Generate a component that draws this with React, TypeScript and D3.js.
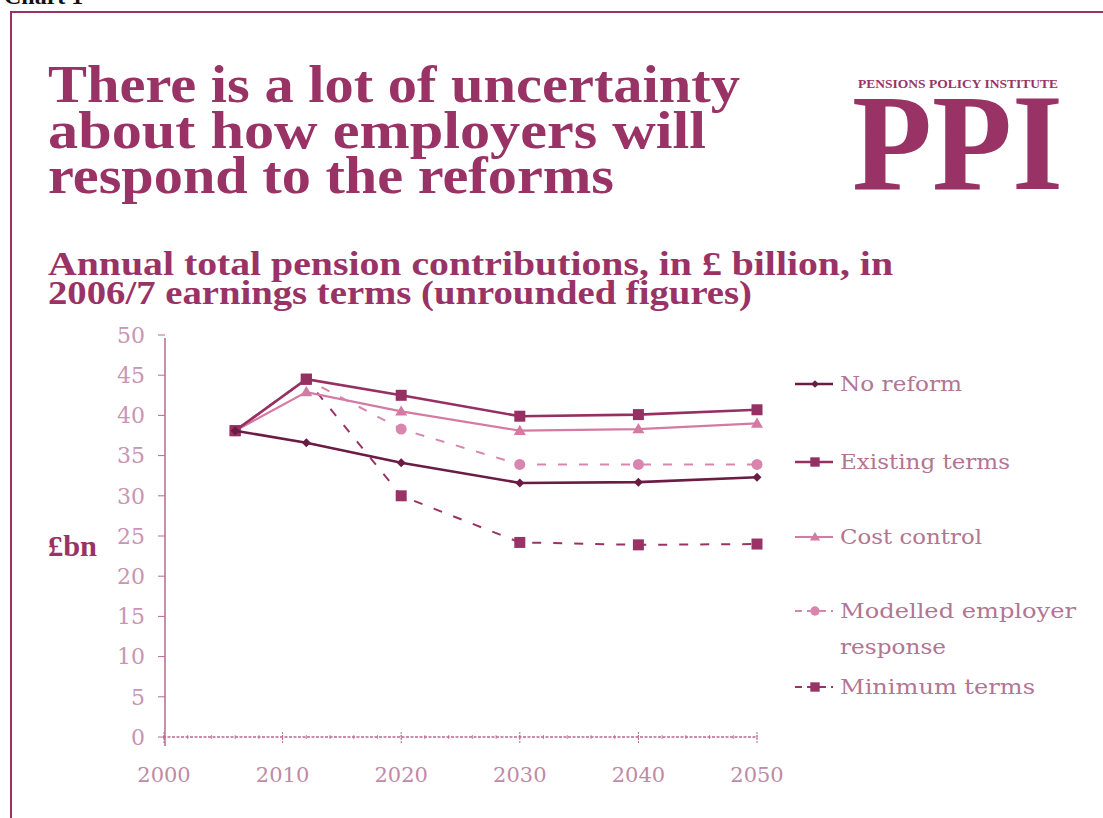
import React from "react";
import * as d3 from "d3";

const years = [2006, 2012, 2020, 2030, 2040, 2050];
const noReform = [38.1, 36.6, 34.1, 31.6, 31.7, 32.3];
const existingTerms = [38.1, 44.5, 42.5, 39.9, 40.1, 40.7];
const costControl = [38.1, 42.9, 40.5, 38.1, 38.3, 39.0];
const modelledResponse = [38.1, 44.5, 38.3, 33.9, 33.9, 33.9];
const minimumTerms = [38.1, 44.5, 30.0, 24.2, 23.9, 24.0];

const yTicks = [0, 5, 10, 15, 20, 25, 30, 35, 40, 45, 50];
const xTicks = [2000, 2010, 2020, 2030, 2040, 2050];

const titleLines = [
  "There is a lot of uncertainty",
  "about how employers will",
  "respond to the reforms",
];
const subtitleLines = [
  "Annual total pension contributions, in £ billion, in",
  "2006/7 earnings terms (unrounded figures)",
];

const PLUM = "#993366";

type Series = {
  name: string[];
  values: number[];
  color: string;
  dashed: boolean;
  marker: "diamond" | "square" | "triangle" | "circle";
  width: number;
};

const series: Series[] = [
  { name: ["Minimum terms"], values: minimumTerms, color: "#9a3365", dashed: true, marker: "square", width: 2 },
  { name: ["Modelled employer", "response"], values: modelledResponse, color: "#d886ae", dashed: true, marker: "circle", width: 2 },
  { name: ["Cost control"], values: costControl, color: "#d47aa3", dashed: false, marker: "triangle", width: 2.2 },
  { name: ["Existing terms"], values: existingTerms, color: "#962f62", dashed: false, marker: "square", width: 2.6 },
  { name: ["No reform"], values: noReform, color: "#6a1c44", dashed: false, marker: "diamond", width: 2.6 },
];

const legendOrder = ["No reform", "Existing terms", "Cost control", "Modelled employer", "Minimum terms"];
const legendY = [384, 462, 537, 611, 687];
const legendWidths: Record<string, number> = {
  "No reform": 122,
  "Existing terms": 170,
  "Cost control": 142,
  "Modelled employer": 236,
  response: 106,
  "Minimum terms": 195,
};

function Marker({ type, x, y, color, scale = 1 }: { type: string; x: number; y: number; color: string; scale?: number }) {
  if (type === "square") {
    const s = 11 * scale;
    return <rect x={x - s / 2} y={y - s / 2} width={s} height={s} fill={color} />;
  }
  if (type === "circle") {
    return <circle cx={x} cy={y} r={5.5 * scale} fill={color} />;
  }
  if (type === "triangle") {
    const s = 6 * scale;
    return <path d={`M${x},${y - s} L${x + s},${y + s * 0.7} L${x - s},${y + s * 0.7} Z`} fill={color} />;
  }
  const s = 4.5 * scale;
  return <path d={`M${x},${y - s} L${x + s},${y} L${x},${y + s} L${x - s},${y} Z`} fill={color} />;
}

export default function App() {
  const x = d3.scaleLinear().domain([2000, 2050]).range([164, 757]);
  const y = d3.scaleLinear().domain([0, 50]).range([737, 335]);
  const line = d3
    .line<number>()
    .x((_, i) => x(years[i]))
    .y((d) => y(d));

  const minorX = d3.range(2000, 2051, 2);

  return (
    <svg
      width={1103}
      height={818}
      style={{ position: "absolute", left: 0, top: 0, background: "#fff" }}
      fontFamily="'Liberation Serif', serif"
    >
      <rect x={0} y={0} width={1103} height={818} fill="#fff" />
      <text x={4} y={4} fontSize={24} fontWeight="bold" fill="#111">Chart 1</text>
      <line x1={10} y1={12} x2={1103} y2={12} stroke={PLUM} strokeWidth={2} />
      <line x1={11} y1={11} x2={11} y2={818} stroke={PLUM} strokeWidth={2} />

      {/* Title */}
      {titleLines.map((t, i) => (
        <text
          key={t}
          x={48}
          y={102 + i * 45.5}
          fontSize={52}
          fontWeight="bold"
          fill={PLUM}
          textLength={[692, 658, 566][i]}
          lengthAdjust="spacingAndGlyphs"
        >
          {t}
        </text>
      ))}

      {/* Subtitle */}
      {subtitleLines.map((t, i) => (
        <text
          key={t}
          x={48}
          y={275 + i * 28.5}
          fontSize={34}
          fontWeight="bold"
          fill={PLUM}
          textLength={[845, 704][i]}
          lengthAdjust="spacingAndGlyphs"
        >
          {t}
        </text>
      ))}

      {/* Logo */}
      <text x={858} y={88} fontSize={13} fontWeight="bold" fill={PLUM} textLength={200} lengthAdjust="spacingAndGlyphs">
        PENSIONS POLICY INSTITUTE
      </text>
      <text x={852} y={189} fontSize={138} fontWeight="bold" fill={PLUM} textLength={211} lengthAdjust="spacingAndGlyphs">
        PPI
      </text>

      {/* Y axis label */}
      <text x={48} y={556} fontSize={29} fontWeight="bold" fill={PLUM} textLength={49} lengthAdjust="spacingAndGlyphs">
        £bn
      </text>

      {/* Y axis */}
      <line x1={165} y1={338} x2={165} y2={746} stroke="#b56a90" strokeWidth={1.5} />
      {yTicks.map((t) => (
        <g key={t}>
          <line x1={158} x2={165} y1={y(t)} y2={y(t)} stroke="#b56a90" strokeWidth={1} />
          <text
            x={145}
            y={y(t)}
            dy="0.35em"
            textAnchor="end"
            fontSize={22}
            fontFamily="'DejaVu Serif', serif"
            fill="#c995b0"
          >
            {t}
          </text>
        </g>
      ))}

      {/* X axis */}
      <line x1={163} y1={y(0)} x2={757} y2={y(0)} stroke="#b56a90" strokeWidth={1.3} strokeDasharray="3,1.5" />
      {minorX.map((t) => (
        <line key={t} x1={x(t)} x2={x(t)} y1={y(0) - 2} y2={y(0) + 2} stroke="#b56a90" strokeWidth={0.8} />
      ))}
      {xTicks.map((t) => (
        <g key={t}>
          <line x1={x(t)} x2={x(t)} y1={y(0) - 5} y2={y(0) + 6} stroke="#b56a90" strokeWidth={1} strokeDasharray="2,1" />
          <text
            x={x(t)}
            y={782}
            textAnchor="middle"
            fontSize={21}
            fontFamily="'DejaVu Serif', serif"
            fill="#c08aa7"
          >
            {t}
          </text>
        </g>
      ))}

      {/* Series */}
      {series.map((s) => (
        <g key={s.name[0]}>
          <path
            d={line(s.values) || ""}
            fill="none"
            stroke={s.color}
            strokeWidth={s.width}
            strokeDasharray={s.dashed ? "9,12" : undefined}
          />
          {s.values.map((v, i) => (
            <Marker key={i} type={s.marker} x={x(years[i])} y={y(v)} color={s.color} />
          ))}
        </g>
      ))}

      {/* Legend */}
      {legendOrder.map((name, li) => {
        const s = series.find((q) => q.name[0] === name)!;
        const ly = legendY[li];
        return (
          <g key={name}>
            <line
              x1={795}
              x2={833}
              y1={ly}
              y2={ly}
              stroke={s.color}
              strokeWidth={s.width}
              strokeDasharray={s.dashed ? "7,5" : undefined}
            />
            <Marker type={s.marker} x={815} y={ly} color={s.color} scale={0.85} />
            {s.name.map((n, k) => (
              <text
                key={n}
                x={840}
                y={ly + k * 36}
                dy="0.35em"
                fontSize={21}
                fontFamily="'DejaVu Serif', serif"
                fill="#b27592"
                textLength={legendWidths[n]}
                lengthAdjust="spacingAndGlyphs"
              >
                {n}
              </text>
            ))}
          </g>
        );
      })}
    </svg>
  );
}
